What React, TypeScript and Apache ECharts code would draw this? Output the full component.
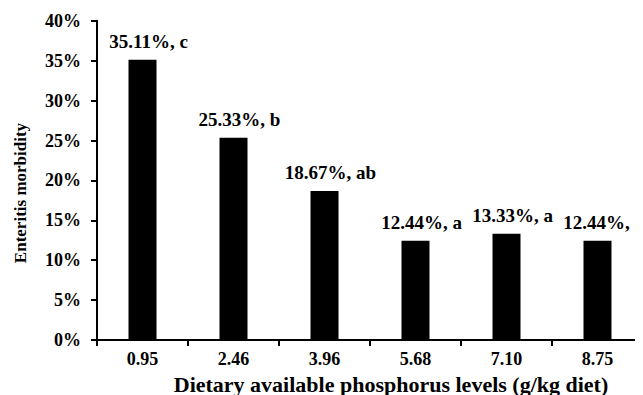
import React, { useEffect, useRef } from "react";
import * as echarts from "echarts";

const categories = ["0.95", "2.46", "3.96", "5.68", "7.10", "8.75"];
const morbidity = [35.11, 25.33, 18.67, 12.44, 13.33, 12.44];
const letters = ["c", "b", "ab", "a", "a", "a"];
const yTicks = { min: 0, max: 40, interval: 5 };
const xTitle = "Dietary available phosphorus levels (g/kg diet)";
const yTitle = "Enteritis morbidity";

const FONT = "'Liberation Serif', 'Times New Roman', serif";

export default function App() {
  const ref = useRef<HTMLDivElement>(null);
  useEffect(() => {
    if (!ref.current) return;
    const chart = echarts.init(ref.current, null, { renderer: "svg" });
    chart.setOption({
      animation: false,
      backgroundColor: "#ffffff",
      grid: { left: 89, right: -8, top: 12.8, bottom: 55, containLabel: false },
      xAxis: {
        type: "category",
        data: categories,
        axisLine: { show: true, lineStyle: { color: "#000", width: 2 } },
        axisTick: { show: true, length: 6, lineStyle: { color: "#000", width: 2 } },
        axisLabel: {
          margin: 10,
          color: "#000",
          fontFamily: FONT,
          fontWeight: "bold",
          fontSize: 18,
        },
      },
      yAxis: {
        type: "value",
        min: yTicks.min,
        max: yTicks.max,
        interval: yTicks.interval,
        splitLine: { show: false },
        axisLine: { show: true, lineStyle: { color: "#000", width: 2 } },
        axisTick: { show: true, length: 6, lineStyle: { color: "#000", width: 2 } },
        axisLabel: {
          margin: 16,
          color: "#000",
          fontFamily: FONT,
          fontWeight: "bold",
          fontSize: 18,
          formatter: "{value}%",
        },
      },
      graphic: [
        {
          type: "text",
          x: 12,
          y: 185,
          rotation: Math.PI / 2,
          style: {
            text: yTitle,
            fill: "#000",
            font: `bold 17px ${FONT}`,
            align: "center",
            verticalAlign: "middle",
          },
        },
        {
          type: "text",
          x: 383,
          y: 376,
          style: {
            text: xTitle,
            fill: "#000",
            font: `bold 22px ${FONT}`,
            align: "center",
            verticalAlign: "middle",
          },
        },
      ],
      series: [
        {
          type: "bar",
          data: morbidity,
          barWidth: 28,
          itemStyle: { color: "#000" },
          label: {
            show: true,
            position: "top",
            distance: 9,
            offset: [6, 0],
            color: "#000",
            fontFamily: FONT,
            fontWeight: "bold",
            fontSize: 19,
            formatter: (p: any) => `${p.value.toFixed(2)}%, ${letters[p.dataIndex]}`,
          },
        },
      ],
    });
    return () => chart.dispose();
  }, []);
  return <div ref={ref} style={{ width: 635, height: 387 }} />;
}
